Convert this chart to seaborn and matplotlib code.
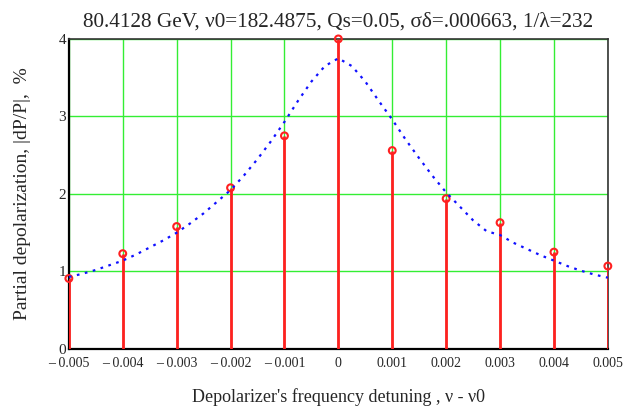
import numpy as np
import pandas as pd
import seaborn as sns
import matplotlib.pyplot as plt

# Measured depolarization at each detuning (stems)
detuning = [-0.005, -0.004, -0.003, -0.002, -0.001, 0.0,
            0.001, 0.002, 0.003, 0.004, 0.005]
depol = [0.91, 1.23, 1.58, 2.08, 2.75, 4.0,
         2.56, 1.94, 1.63, 1.25, 1.07]

# Model curve (dotted blue)
curve_x = [-0.005, -0.00475, -0.0045, -0.00425, -0.004, -0.00375, -0.0035,
           -0.00325, -0.003, -0.00275, -0.0025, -0.00225, -0.002, -0.00175,
           -0.0015, -0.00125, -0.001, -0.00075, -0.0005, -0.00025, 0.0,
           0.00025, 0.0005, 0.00075, 0.001, 0.00125, 0.0015, 0.00175, 0.002,
           0.00225, 0.0025, 0.00275, 0.003, 0.00325, 0.0035, 0.00375, 0.004,
           0.00425, 0.0045, 0.00475, 0.005]
curve_y = [0.93, 0.97, 1.02, 1.08, 1.14, 1.22, 1.31, 1.40, 1.50, 1.62, 1.75,
           1.90, 2.05, 2.24, 2.45, 2.68, 2.93, 3.20, 3.45, 3.65, 3.75,
           3.65, 3.45, 3.20, 2.96, 2.70, 2.46, 2.23, 2.02, 1.84, 1.66, 1.52,
           1.47, 1.37, 1.29, 1.21, 1.14, 1.07, 1.01, 0.96, 0.92]

xticks = [-0.005, -0.004, -0.003, -0.002, -0.001, 0.0,
          0.001, 0.002, 0.003, 0.004, 0.005]
xtick_labels = ["\u2013 0.005", "\u2013 0.004", "\u2013 0.003", "\u2013 0.002",
                "\u2013 0.001", "0", "0.001", "0.002", "0.003", "0.004", "0.005"]
yticks = [0, 1, 2, 3, 4]

sns.set_style("white")
plt.rcParams["font.family"] = ["Liberation Serif", "DejaVu Serif"]

fig = plt.figure(figsize=(6.26, 4.08), dpi=100)
ax = fig.add_axes([0.110, 0.1446, 0.861, 0.760])

ax.set_xlim(-0.005, 0.005)
ax.set_ylim(0, 4)
ax.set_xticks(xticks)
ax.set_xticklabels(xtick_labels, fontsize=10)
ax.set_yticks(yticks)
ax.set_yticklabels([str(t) for t in yticks], fontsize=11)
ax.tick_params(axis="x", length=0, pad=6)
ax.tick_params(axis="y", length=0, pad=2)
ax.grid(True, color="#33ee33", linewidth=1.0)
ax.set_axisbelow(True)

# stems
ax.vlines(detuning, 0, depol, color="#ff2020", linewidth=2, zorder=3)
sns.scatterplot(x=detuning, y=depol, ax=ax, marker="o", s=24,
                facecolor="none", edgecolor="#ff2020", linewidth=1.5,
                zorder=4, clip_on=False)

# model curve
curve = pd.DataFrame({"x": curve_x, "y": curve_y})
sns.lineplot(data=curve, x="x", y="y", ax=ax, color="#1010ff",
             linewidth=1.6, linestyle=(0, (1.2, 2.5)), zorder=5)

for side in ["left", "bottom"]:
    ax.spines[side].set_linewidth(1.6)
    ax.spines[side].set_color("black")
for side in ["top", "right"]:
    ax.spines[side].set_linewidth(1.2)
    ax.spines[side].set_color("#333333")

ax.set_title("80.4128 GeV, \u03bd0=182.4875, Qs=0.05, \u03c3\u03b4=.000663, 1/\u03bb=232",
             fontsize=15.3, pad=9)
ax.set_xlabel("Depolarizer's frequency detuning , \u03bd - \u03bd0",
              fontsize=13, labelpad=13)
ax.set_ylabel("Partial depolarization, |dP/P|,  %", fontsize=14, labelpad=20)

plt.savefig("out.png", dpi=100)
